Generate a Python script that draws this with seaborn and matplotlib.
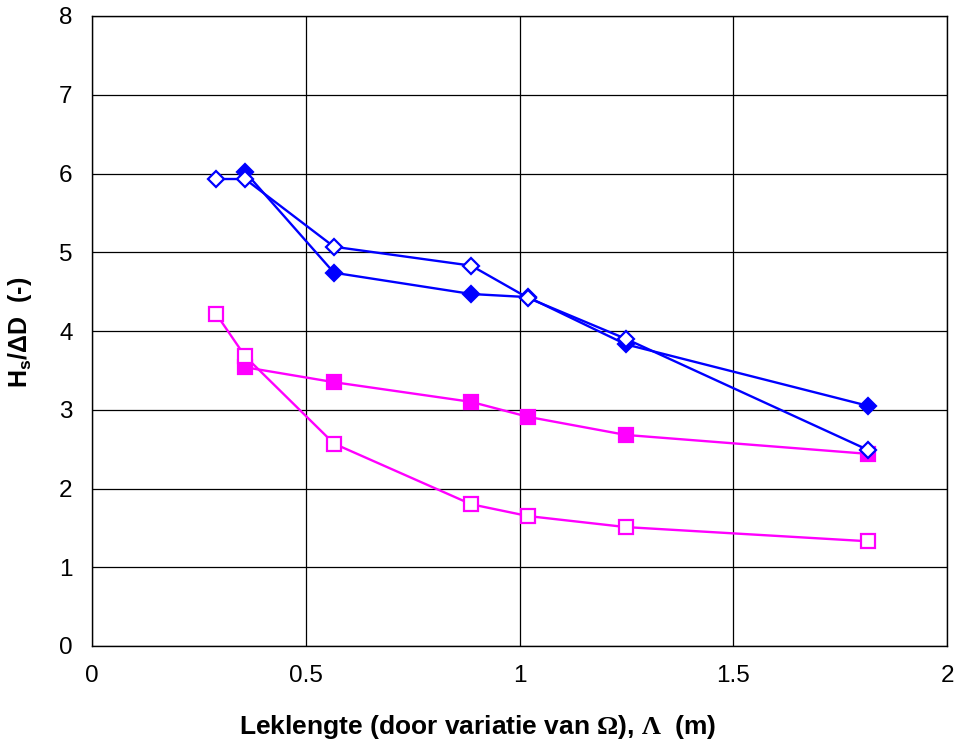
import matplotlib
matplotlib.use("Agg")
import matplotlib.pyplot as plt
import seaborn as sns
import pandas as pd

# Leak length (m) and relative wave height Hs/ΔD for four test series
x_sq_filled = [0.358, 0.566, 0.887, 1.020, 1.249, 1.815]
y_sq_filled = [3.54, 3.35, 3.10, 2.91, 2.68, 2.44]

x_sq_open = [0.290, 0.358, 0.566, 0.887, 1.020, 1.249, 1.815]
y_sq_open = [4.22, 3.68, 2.57, 1.80, 1.65, 1.51, 1.33]

x_dia_filled = [0.358, 0.566, 0.887, 1.020, 1.249, 1.815]
y_dia_filled = [6.02, 4.74, 4.47, 4.43, 3.83, 3.05]

x_dia_open = [0.290, 0.358, 0.566, 0.887, 1.020, 1.249, 1.815]
y_dia_open = [5.93, 5.93, 5.07, 4.83, 4.42, 3.90, 2.49]

x_ticks = [0, 0.5, 1, 1.5, 2]
x_ticklabels = ["0", "0.5", "1", "1.5", "2"]
y_ticks = [0, 1, 2, 3, 4, 5, 6, 7, 8]

sns.set_theme(style="white")
plt.rcParams["font.family"] = ["Liberation Sans", "DejaVu Sans"]
plt.rcParams["mathtext.fontset"] = "custom"
plt.rcParams["mathtext.rm"] = "Liberation Serif:bold"
plt.rcParams["mathtext.sf"] = "Liberation Sans:bold"

fig = plt.figure(figsize=(9.63, 7.44), dpi=100)
ax = fig.add_axes([92 / 963, 1 - 646 / 744, (947 - 92) / 963, (646 - 16) / 744])

magenta = "#FF00FF"
blue = "#0000FF"

series = [
    (x_sq_filled, y_sq_filled, magenta, "s", magenta, 9.5),
    (x_sq_open, y_sq_open, magenta, "s", "white", 9.5),
    (x_dia_filled, y_dia_filled, blue, "D", blue, 8.5),
    (x_dia_open, y_dia_open, blue, "D", "white", 8.5),
]
for xs, ys, col, mk, face, ms in series:
    df = pd.DataFrame({"x": xs, "y": ys})
    sns.lineplot(data=df, x="x", y="y", ax=ax, sort=False, color=col,
                 linewidth=1.7, marker=mk, markersize=ms,
                 markerfacecolor=face, markeredgecolor=col,
                 markeredgewidth=1.6, estimator=None)

ax.set_xlim(0, 2)
ax.set_ylim(0, 8)
ax.set_xticks(x_ticks)
ax.set_xticklabels(x_ticklabels)
ax.set_yticks(y_ticks)
ax.grid(True, color="black", linewidth=0.9)
ax.tick_params(axis="both", labelsize=17.5, labelcolor="black", color="#444444",
               length=4, width=1.0, direction="out")
ax.tick_params(axis="x", pad=10)
ax.tick_params(axis="y", pad=10)
for s in ax.spines.values():
    s.set_color("black")
    s.set_linewidth(1.0)

ax.set_xlabel(r"Leklengte (door variatie van $\Omega$), $\Lambda$  (m)",
              fontsize=19, fontweight="bold", color="black")
ax.set_ylabel(r"H$_{\mathsf{s}}$/ΔD  (-)", fontsize=18, fontweight="bold",
              color="black")
ax.xaxis.label.set_va("center")
ax.yaxis.label.set_va("center")
ax.xaxis.set_label_coords((478 - 92) / 855, -(727 - 646) / 630)
ax.yaxis.set_label_coords((20 - 92) / 855, (646 - 332) / 630)

fig.savefig("out.png", dpi=100)
